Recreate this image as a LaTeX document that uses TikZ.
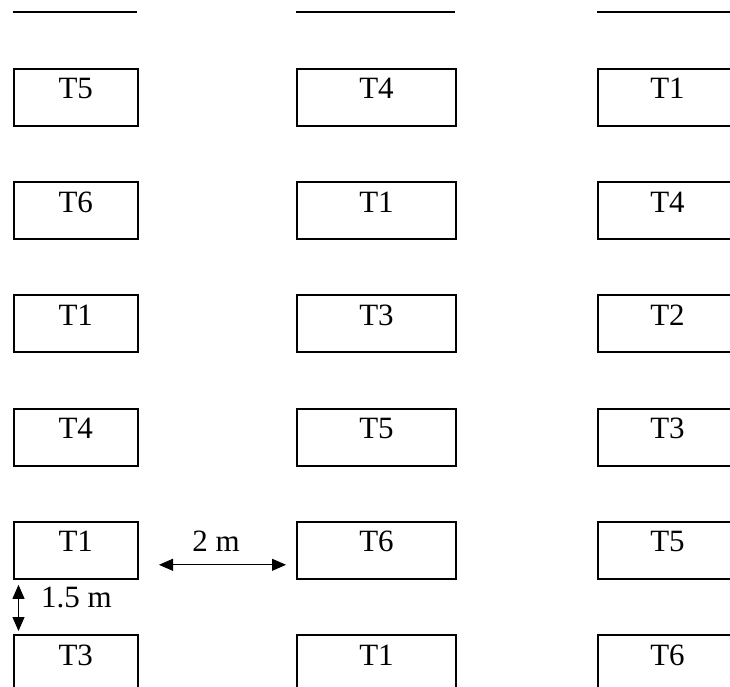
\documentclass[tikz,border=0pt]{standalone}
\usepackage{fontspec}
\setmainfont{Liberation Serif}
\usetikzlibrary{arrows.meta}
\begin{document}
\begin{tikzpicture}[x=1pt, y=-1pt,
  every node/.style={font=\fontsize{31}{36}\selectfont, inner sep=0pt},
  plot/.style={draw, line width=2pt, text height=30pt, text depth=27pt, anchor=north west},
  dim/.style={{Triangle[length=14pt,width=12pt]}-{Triangle[length=14pt,width=12pt]}, line width=1pt}]
\useasboundingbox (0,0) rectangle (730,687);
% bottom edges of the row cut off at the top
\foreach \xa/\xb in {12.5/137, 296/455, 597/730}
  \draw[line width=2pt] (\xa,12) -- (\xb,12);
% plots, column by column
\foreach \lab [count=\r] in {T5,T6,T1,T4,T1,T3}
  \node[plot, minimum width=124.5pt] (a\r) at (12.5,{68+113.2*(\r-1)}) {\lab};
\foreach \lab [count=\r] in {T4,T1,T3,T5,T6,T1}
  \node[plot, minimum width=159pt] (b\r) at (296,{68+113.2*(\r-1)}) {\lab};
\foreach \lab [count=\r] in {T1,T4,T2,T3,T5,T6}
  \node[plot, minimum width=139pt] (c\r) at (597,{68+113.2*(\r-1)}) {\lab};
% spacings
\draw[dim] ([xshift=20pt,yshift=15pt]a5.south east) -- ([xshift=-10pt,yshift=15pt]b5.south west)
  node[pos=0.45, anchor=base, yshift=13pt] (dx) {2 m};
\draw[dim] ([xshift=6pt,yshift=-5pt]a5.south west) -- ([xshift=6pt,yshift=3pt]a6.north west)
  node[midway, anchor=base west, xshift=22pt] (dy) {1.5 m};
\end{tikzpicture}
\end{document}
